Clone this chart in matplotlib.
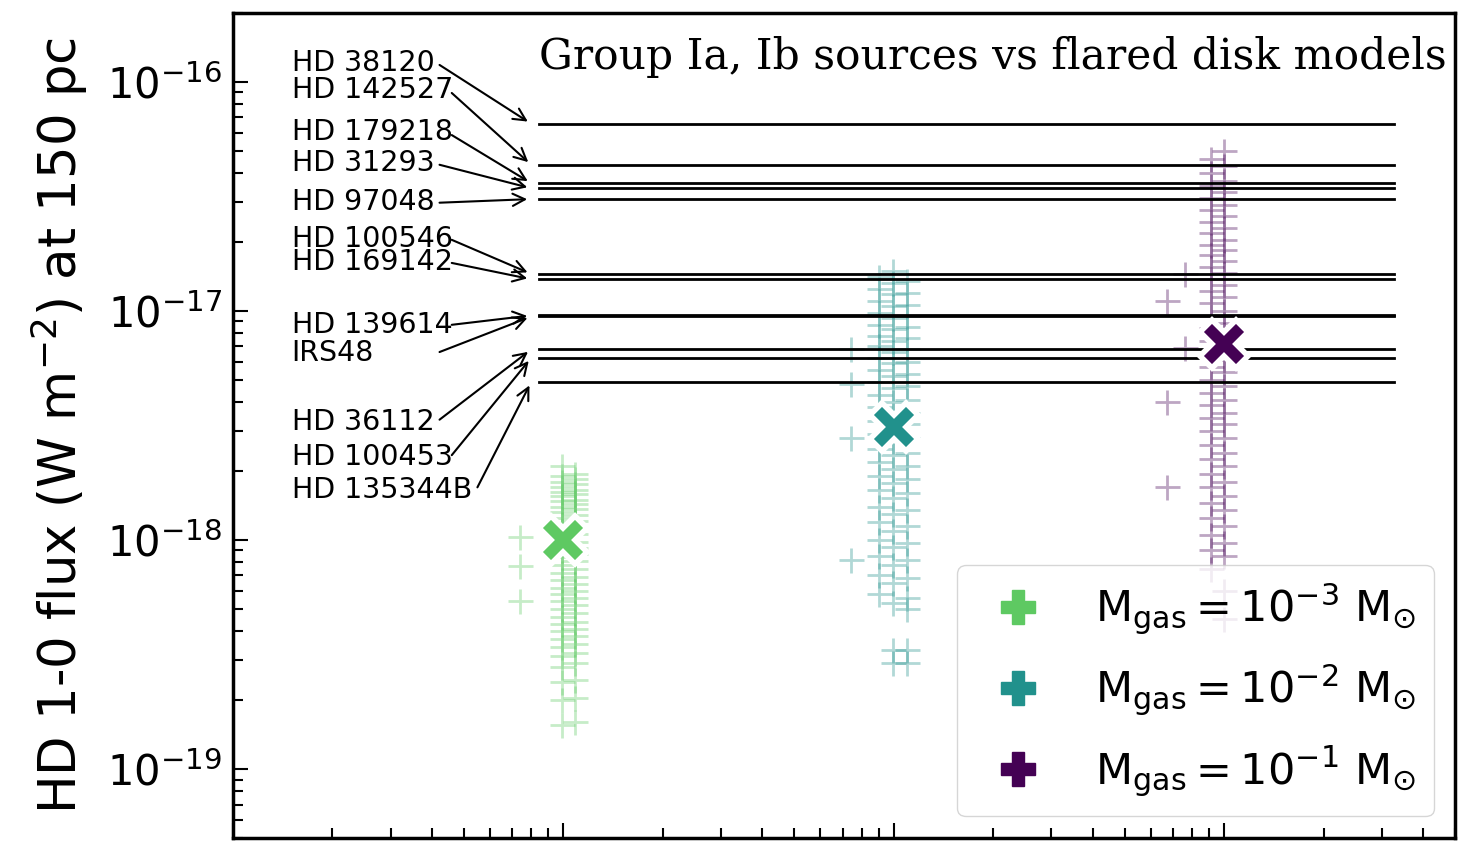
import matplotlib
matplotlib.use("Agg")
import matplotlib.pyplot as plt
from matplotlib.lines import Line2D

# disk gas masses of the three model grids
model_mass = [1e-3, 1e-2, 1e-1]
model_colors = ["#5ec962", "#21918c", "#440154"]
model_labels = [r"$\mathrm{M_{gas} = 10^{-3}\ M_{\odot}}$",
                r"$\mathrm{M_{gas} = 10^{-2}\ M_{\odot}}$",
                r"$\mathrm{M_{gas} = 10^{-1}\ M_{\odot}}$"]
model_median = [1.0e-18, 3.1e-18, 7.2e-18]

# model fluxes, M_gas = 1e-3 (two sub-columns + stragglers)
g_x = [0.99e-3, 1.085e-3]
g_y_a = [2.1e-18, 1.9e-18, 1.8e-18, 1.7e-18, 1.62e-18, 1.55e-18, 1.48e-18, 1.4e-18,
         1.33e-18, 1.25e-18, 1.18e-18, 1.1e-18, 1.02e-18, 9.6e-19, 9.0e-19, 8.4e-19,
         7.8e-19, 7.2e-19, 6.7e-19, 6.2e-19, 5.8e-19, 5.4e-19, 5.0e-19, 4.6e-19,
         4.3e-19, 4.0e-19, 3.7e-19, 3.4e-19, 3.1e-19, 2.8e-19, 2.4e-19, 2.0e-19, 1.55e-19]
g_y_b = [1.95e-18, 1.85e-18, 1.75e-18, 1.66e-18, 1.58e-18, 1.5e-18, 1.43e-18, 1.36e-18,
         1.29e-18, 1.21e-18, 1.14e-18, 1.06e-18, 9.8e-19, 9.2e-19, 8.7e-19, 8.1e-19,
         7.5e-19, 6.9e-19, 6.4e-19, 6.0e-19, 5.6e-19, 5.2e-19, 4.8e-19, 4.4e-19,
         4.1e-19, 3.8e-19, 3.5e-19, 3.2e-19, 2.9e-19, 2.45e-19, 2.05e-19, 1.6e-19]
g_out_x = [7.4e-4, 7.4e-4, 7.4e-4]
g_out_y = [1.03e-18, 7.7e-19, 5.4e-19]

# M_gas = 1e-2
t_x = [0.9e-2, 0.993e-2, 1.10e-2]
t_y_a = [1.4e-17, 1.25e-17, 1.1e-17, 9.8e-18, 8.7e-18, 7.8e-18, 7.0e-18, 6.2e-18,
         5.5e-18, 4.9e-18, 4.3e-18, 3.8e-18, 3.3e-18, 2.9e-18, 2.5e-18, 2.2e-18,
         1.9e-18, 1.65e-18, 1.4e-18, 1.2e-18, 1.0e-18, 8.5e-19, 7.0e-19, 5.8e-19]
t_y_b = [1.5e-17, 1.32e-17, 1.18e-17, 1.05e-17, 9.3e-18, 8.3e-18, 7.4e-18, 6.6e-18,
         5.9e-18, 5.2e-18, 4.6e-18, 4.0e-18, 3.5e-18, 3.1e-18, 2.7e-18, 2.35e-18,
         2.05e-18, 1.78e-18, 1.52e-18, 1.3e-18, 1.1e-18, 9.3e-19, 7.8e-19, 6.5e-19,
         5.3e-19, 3.3e-19, 2.9e-19]
t_y_c = [1.35e-17, 1.2e-17, 1.06e-17, 9.5e-18, 8.5e-18, 7.6e-18, 6.8e-18, 6.0e-18,
         5.3e-18, 4.7e-18, 4.1e-18, 3.6e-18, 3.2e-18, 2.8e-18, 2.4e-18, 2.1e-18,
         1.85e-18, 1.6e-18, 1.35e-18, 1.15e-18, 9.7e-19, 8.2e-19, 6.8e-19, 5.6e-19,
         5.0e-19, 3.3e-19, 2.9e-19]
t_out_x = [7.4e-3, 7.4e-3, 7.4e-3, 7.4e-3]
t_out_y = [6.8e-18, 4.8e-18, 2.8e-18, 8.2e-19]

# M_gas = 1e-1
p_x = [0.915e-1, 1.0e-1]
p_y_a = [4.6e-17, 4.0e-17, 3.5e-17, 3.1e-17, 2.75e-17, 2.45e-17, 2.2e-17, 1.95e-17,
         1.75e-17, 1.55e-17, 1.38e-17, 1.22e-17, 1.08e-17, 9.5e-18, 8.4e-18, 7.4e-18,
         6.5e-18, 5.7e-18, 5.0e-18, 4.4e-18, 3.9e-18, 3.4e-18, 3.0e-18, 2.6e-18,
         2.25e-18, 1.95e-18, 1.7e-18, 1.45e-18, 1.25e-18, 1.05e-18, 9.0e-19, 7.5e-19]
p_y_b = [5.0e-17, 4.3e-17, 3.7e-17, 3.3e-17, 2.9e-17, 2.6e-17, 2.3e-17, 2.05e-17,
         1.85e-17, 1.65e-17, 1.46e-17, 1.3e-17, 1.15e-17, 1.0e-17, 8.9e-18, 7.9e-18,
         7.0e-18, 6.1e-18, 5.4e-18, 4.7e-18, 4.1e-18, 3.6e-18, 3.2e-18, 2.8e-18,
         2.4e-18, 2.1e-18, 1.8e-18, 1.55e-18, 1.35e-18, 1.15e-18, 9.7e-19, 8.5e-19,
         6.0e-19, 4.5e-19]
p_out_x = [6.7e-2, 6.7e-2, 6.7e-2, 7.6e-2, 7.6e-2]
p_out_y = [1.1e-17, 4.0e-18, 1.7e-18, 1.45e-17, 6.9e-18]

# observed sources (flux scaled to 150 pc)
src_names = ["HD 38120", "HD 142527", "HD 179218", "HD 31293", "HD 97048",
             "HD 100546", "HD 169142", "HD 139614", "IRS48", "HD 36112",
             "HD 100453", "HD 135344B"]
src_flux = [6.56e-17, 4.34e-17, 3.61e-17, 3.43e-17, 3.08e-17, 1.45e-17,
            1.375e-17, 9.56e-18, 9.46e-18, 6.80e-18, 6.25e-18, 4.91e-18]

# label / arrow placement (axes fraction)
lab_y = [0.939, 0.907, 0.856, 0.818, 0.771, 0.726, 0.698, 0.622, 0.588, 0.504, 0.462, 0.422]
arr_x = [0.169, 0.179, 0.179, 0.169, 0.169, 0.179, 0.179, 0.179, 0.169, 0.169, 0.179, 0.200]
arr_y = [0.937, 0.903, 0.852, 0.816, 0.770, 0.725, 0.697, 0.622, 0.589, 0.507, 0.464, 0.425]

fig = plt.figure(figsize=(14.59, 8.41), dpi=100)
ax = fig.add_axes([0.1597, 0.0036, 0.8376, 0.981])
ax.set_xscale("log")
ax.set_yscale("log")

mk = dict(ls="none", marker="+", ms=18, mew=2, alpha=0.35)
cols = model_colors
for x, ys in zip(g_x, [g_y_a, g_y_b]):
    ax.plot([x] * len(ys), ys, color=cols[0], **mk)
ax.plot(g_out_x, g_out_y, color=cols[0], **mk)
for x, ys in zip(t_x, [t_y_a, t_y_b, t_y_c]):
    ax.plot([x] * len(ys), ys, color=cols[1], **mk)
ax.plot(t_out_x, t_out_y, color=cols[1], **mk)
for x, ys in zip(p_x, [p_y_a, p_y_b]):
    ax.plot([x] * len(ys), ys, color=cols[2], **mk)
ax.plot(p_out_x, p_out_y, color=cols[2], **mk)

for f in src_flux:
    ax.axhline(f, xmin=0.25, xmax=0.95, color="black", lw=2, zorder=3)

for m, med, c in zip(model_mass, model_median, model_colors):
    ax.plot(m, med, marker="X", ms=34, color=c, mec="white", mew=4, zorder=5)

for name, f, ly, ax_, ay in zip(src_names, src_flux, lab_y, arr_x, arr_y):
    ax.text(0.048, ly, name, transform=ax.transAxes, fontsize=20.5,
            ha="left", va="center")
    ax.annotate("", xy=(8e-4, f), xycoords="data",
                xytext=(ax_, ay), textcoords="axes fraction",
                arrowprops=dict(arrowstyle="->", lw=1.5, color="black",
                                shrinkA=0, shrinkB=3, mutation_scale=22))

ax.text(0.25, 0.947, "Group Ia, Ib sources vs flared disk models",
        transform=ax.transAxes, fontsize=30.5, family="DejaVu Serif",
        ha="left", va="center")

ax.set_xlim(1e-4, 0.5)
ax.set_ylim(5e-20, 2e-16)
ax.set_ylabel(r"HD 1-0 flux (W m$^{-2}$) at 150 pc", fontsize=37, labelpad=12)

ax.tick_params(which="both", direction="in", labelsize=30, width=1.5, pad=8)
ax.tick_params(which="major", length=11)
ax.tick_params(which="minor", length=7)
for s in ax.spines.values():
    s.set_linewidth(2.5)

handles = [Line2D([], [], ls="none", marker="P", ms=24, color=c) for c in model_colors]
ax.legend(handles, model_labels, loc="lower right", fontsize=31,
          labelspacing=0.6)

fig.savefig("out.png", dpi=100)
